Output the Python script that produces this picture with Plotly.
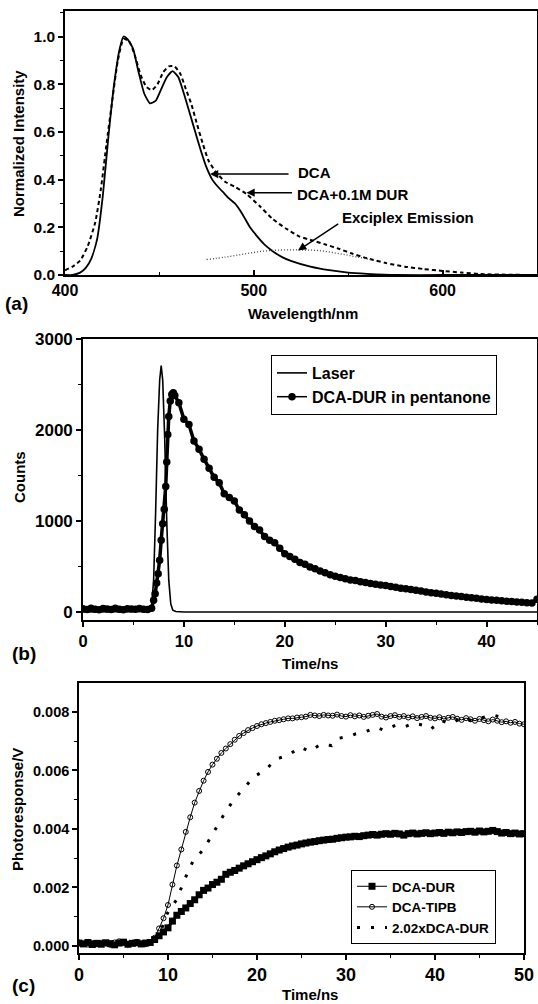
import plotly.graph_objects as go

FONT = "Liberation Sans, Arial, sans-serif"
W, H = 538, 1004

# ---------------- Panel (a): emission spectra ----------------
wl_dca = [400, 404, 408, 411, 414, 417, 420, 423, 426, 429, 431, 433, 436, 439, 442, 445, 448, 451,
          454, 457, 460, 463, 466, 469, 472, 475, 478, 481, 484, 487, 490, 494, 498, 502, 506, 510,
          515, 520, 530, 540, 550, 560, 575, 600, 650]
int_dca = [0.0, 0.0, 0.01, 0.03, 0.07, 0.15, 0.33, 0.58, 0.80, 0.95, 1.0, 0.99, 0.95, 0.85, 0.76,
           0.72, 0.73, 0.78, 0.83, 0.855, 0.83, 0.76, 0.68, 0.60, 0.52, 0.45, 0.40, 0.37, 0.345,
           0.32, 0.30, 0.255, 0.20, 0.16, 0.125, 0.10, 0.075, 0.058, 0.035, 0.02, 0.01, 0.005,
           0.0, 0.0, 0.0]
wl_dur = [400, 404, 408, 412, 416, 419, 422, 425, 428, 431, 434, 437, 440, 443, 446, 449, 452, 455,
          458, 461, 464, 467, 470, 473, 476, 480, 485, 490, 496, 503, 510, 517, 524, 531, 538, 545,
          552, 560, 570, 580, 590, 600, 610, 620, 635, 650]
int_dur = [0.02, 0.035, 0.06, 0.12, 0.22, 0.36, 0.55, 0.73, 0.90, 0.99, 0.98, 0.92, 0.84, 0.79,
           0.775, 0.80, 0.85, 0.875, 0.875, 0.845, 0.78, 0.715, 0.63, 0.55, 0.48, 0.43, 0.39, 0.37,
           0.34, 0.29, 0.235, 0.195, 0.162, 0.145, 0.128, 0.11, 0.09, 0.07, 0.05, 0.035, 0.025,
           0.017, 0.01, 0.004, 0.001, 0.0]
wl_exc = [475, 485, 495, 505, 515, 525, 535, 545, 555, 565]
int_exc = [0.065, 0.075, 0.088, 0.10, 0.105, 0.105, 0.102, 0.09, 0.075, 0.06]

# ---------------- Panel (b): time-resolved counts ----------------
t_laser = [0, 5, 6.6, 6.8, 7.0, 7.2, 7.4, 7.6, 7.75, 7.9, 8.1, 8.3, 8.5, 8.7, 8.9, 9.2, 10, 45]
c_laser = [0, 0, 5, 60, 350, 1100, 2000, 2550, 2710, 2550, 1900, 1000, 350, 90, 20, 5, 0, 0]

t_dca = [0.0, 0.4, 0.8, 1.2, 1.6, 2.0, 2.4, 2.8, 3.2, 3.6, 4.0, 4.4, 4.8, 5.2, 5.6, 6.0, 6.4, 6.8,
         7.0, 7.15, 7.3, 7.45, 7.6, 7.75, 7.9, 8.05, 8.2, 8.3, 8.4, 8.5, 8.65, 8.8, 8.95, 9.1,
         9.5, 10.0, 10.5, 11.0, 11.5, 12.0, 12.5, 13.0, 13.5, 14.0, 14.5, 15.0, 15.5, 16.0, 16.5,
         17.0, 17.5, 18.0, 18.5, 19.0, 19.5, 20.0, 20.5, 21.0, 21.5, 22.0, 22.5, 23.0, 23.5, 24.0,
         24.5, 25.0, 25.5, 26.0, 26.5, 27.0, 27.5, 28.0, 28.5, 29.0, 29.5, 30.0, 30.5, 31.0, 31.5,
         32.0, 32.5, 33.0, 33.5, 34.0, 34.5, 35.0, 35.5, 36.0, 36.5, 37.0, 37.5, 38.0, 38.5, 39.0,
         39.5, 40.0, 40.5, 41.0, 41.5, 42.0, 42.5, 43.0, 43.5, 44.0, 44.5, 45.0]
c_dca = [35, 28, 40, 30, 25, 38, 32, 27, 41, 30, 26, 36, 33, 29, 38, 31, 27, 40,
         130, 200, 320, 420, 570, 790, 970, 1130, 1380, 1650, 1950, 2150, 2320, 2390, 2410, 2380,
         2300, 2120, 2060, 1880, 1790, 1680, 1580, 1480, 1420, 1300, 1260, 1220, 1120, 1070, 1000,
         940, 900, 830, 790, 760, 700, 640, 610, 580, 545, 525, 495, 475, 450, 432,
         410, 392, 380, 365, 352, 345, 332, 325, 312, 305, 296, 290, 280, 272, 262,
         255, 248, 240, 230, 220, 212, 205, 198, 190, 182, 175, 170, 162, 156, 150,
         143, 138, 133, 128, 124, 118, 115, 110, 106, 102, 98, 140]

# ---------------- Panel (c): photoresponse ----------------
t_c = [i * 0.5 for i in range(101)]
v_tipb = [0.00012, 0.00008, 0.00005, 0.00010, 0.00006, 0.00011, 0.00009, 0.00004, 0.00012, 0.00016,
          0.00010, 0.00005, 0.00011, 0.00014, 0.00008, 0.00006, 0.00012, 0.00028, 0.00060, 0.00095,
          0.00140, 0.00210, 0.00275, 0.00330, 0.00390, 0.00440, 0.00490, 0.00530, 0.00565, 0.00595,
          0.00620, 0.00640, 0.00660, 0.00675, 0.00690, 0.00705, 0.00718, 0.00728, 0.00738, 0.00745,
          0.00752, 0.00758, 0.00762, 0.00766, 0.00770, 0.00772, 0.00775, 0.00778, 0.00778, 0.00781,
          0.00782, 0.00784, 0.00790, 0.00788, 0.00786, 0.00790, 0.00788, 0.00787, 0.00791, 0.00786,
          0.00784, 0.00789, 0.00785, 0.00788, 0.00783, 0.00787, 0.00790, 0.00793, 0.00784, 0.00781,
          0.00786, 0.00789, 0.00783, 0.00786, 0.00781, 0.00785, 0.00779, 0.00783, 0.00786, 0.00780,
          0.00778, 0.00782, 0.00776, 0.00780, 0.00783, 0.00777, 0.00773, 0.00779, 0.00775, 0.00770,
          0.00776, 0.00772, 0.00768, 0.00774, 0.00770, 0.00765, 0.00768, 0.00763, 0.00766, 0.00760,
          0.00758]
v_dur = [0.00010, 0.00007, 0.00012, 0.00005, 0.00009, 0.00006, 0.00011, 0.00008, 0.00004, 0.00010,
         0.00013, 0.00006, 0.00009, 0.00011, 0.00007, 0.00010, 0.00012, 0.00022, 0.00035, 0.00048,
         0.00062, 0.00085, 0.00105, 0.00118, 0.00130, 0.00145, 0.00158, 0.00175, 0.00190, 0.00198,
         0.00210, 0.00218, 0.00228, 0.00245, 0.00252, 0.00258, 0.00266, 0.00274, 0.00281, 0.00288,
         0.00295, 0.00302, 0.00308, 0.00315, 0.00322, 0.00328, 0.00333, 0.00338, 0.00342, 0.00345,
         0.00349, 0.00352, 0.00355, 0.00357, 0.00360, 0.00362, 0.00364, 0.00365, 0.00368, 0.00370,
         0.00372, 0.00373, 0.00375, 0.00374, 0.00377, 0.00379, 0.00381, 0.00379, 0.00382, 0.00384,
         0.00382, 0.00385, 0.00383, 0.00379, 0.00384, 0.00386, 0.00383, 0.00385, 0.00387, 0.00384,
         0.00386, 0.00388, 0.00385, 0.00389, 0.00387, 0.00390, 0.00388, 0.00391, 0.00392, 0.00389,
         0.00393, 0.00390, 0.00392, 0.00395, 0.00391, 0.00386, 0.00388, 0.00384, 0.00386, 0.00383,
         0.00384]
t_202 = [8.6, 9.3, 9.9, 11.0, 11.9, 12.8, 14.0, 15.2, 16.3, 17.4, 18.5, 19.7, 20.9, 22.2, 23.4, 24.9,
         25.9, 27.2, 28.4, 29.2, 30.1, 31.1, 32.0, 33.4, 34.3, 35.7, 36.7, 37.6, 38.6, 39.5, 40.7,
         41.8, 43.0, 44.2, 45.3, 46.5, 47.6]
v_202 = [0.0002, 0.0006, 0.0011, 0.0016, 0.0023, 0.0029, 0.0033, 0.0039, 0.0045, 0.0050, 0.0054,
         0.0058, 0.0060, 0.0064, 0.0065, 0.0068, 0.00665, 0.0069, 0.00685, 0.0071, 0.00715, 0.00725,
         0.0073, 0.00748, 0.00737, 0.00756, 0.0075, 0.00762, 0.00755, 0.0074, 0.0077, 0.0076,
         0.0078, 0.0077, 0.0078, 0.0079, 0.0078]


def px(p):
    return p / W


def py(p):
    return 1 - p / H


def axis(domain, rng, dtick, minor_dtick, size, ticks="outside", fmt=None, anchor=None):
    d = dict(domain=domain, range=rng, dtick=dtick, tick0=0, showline=True, linecolor="black",
             linewidth=1.6, mirror=True, ticks=ticks, ticklen=5, tickwidth=1.5, tickcolor="black",
             showgrid=False, zeroline=False, automargin=False,
             tickfont=dict(family=FONT, size=size, color="black", weight="bold"),
             minor=dict(dtick=minor_dtick, ticks=ticks, ticklen=3, tickwidth=1, tickcolor="black",
                        showgrid=False))
    if fmt:
        d["tickformat"] = fmt
    if anchor:
        d["anchor"] = anchor
    return d


fig = go.Figure()

# (a)
fig.add_trace(go.Scatter(x=wl_dca, y=int_dca, mode="lines", xaxis="x", yaxis="y",
                         line=dict(color="black", width=1.8, shape="spline", smoothing=0.5),
                         showlegend=False, name="DCA"))
fig.add_trace(go.Scatter(x=wl_dur, y=int_dur, mode="lines", xaxis="x", yaxis="y",
                         line=dict(color="black", width=2, dash="4px,3px", shape="spline",
                                   smoothing=0.5),
                         showlegend=False, name="DCA+0.1M DUR"))
fig.add_trace(go.Scatter(x=wl_exc, y=int_exc, mode="lines", xaxis="x", yaxis="y",
                         line=dict(color="#444444", width=1.3, dash="1px,2px", shape="spline"),
                         showlegend=False, name="Exciplex Emission"))

# (b)
fig.add_trace(go.Scatter(x=t_laser, y=c_laser, mode="lines", xaxis="x2", yaxis="y2",
                         line=dict(color="black", width=1.6), name="Laser", legend="legend"))
fig.add_trace(go.Scatter(x=t_dca, y=c_dca, mode="lines", xaxis="x2", yaxis="y2",
                         line=dict(color="black", width=3.5), showlegend=False,
                         hoverinfo="skip", name="DCA-DUR band"))
fig.add_trace(go.Scatter(x=t_dca, y=c_dca, mode="lines+markers", xaxis="x2", yaxis="y2",
                         line=dict(color="black", width=1.5),
                         marker=dict(symbol="circle", size=7.5, color="black"),
                         name="DCA-DUR in pentanone", legend="legend"))

# (c)
fig.add_trace(go.Scatter(x=t_c, y=v_dur, mode="lines", xaxis="x3", yaxis="y3",
                         line=dict(color="black", width=3), showlegend=False,
                         hoverinfo="skip", name="DCA-DUR band"))
fig.add_trace(go.Scatter(x=t_c, y=v_dur, mode="lines+markers", xaxis="x3", yaxis="y3",
                         line=dict(color="black", width=1),
                         marker=dict(symbol="square", size=7, color="black"),
                         name="DCA-DUR", legend="legend2"))
fig.add_trace(go.Scatter(x=t_c, y=v_tipb, mode="lines+markers", xaxis="x3", yaxis="y3",
                         line=dict(color="black", width=1),
                         marker=dict(symbol="circle-open", size=5, color="black",
                                     line=dict(width=1, color="black")),
                         name="DCA-TIPB", legend="legend2"))
fig.add_trace(go.Scatter(x=t_202, y=v_202, mode="lines", xaxis="x3", yaxis="y3",
                         line=dict(color="black", width=3, dash="3px,11px"),
                         name="2.02xDCA-DUR", legend="legend2"))

ann_font = dict(family=FONT, size=15, color="black", weight="bold")
letter_font = dict(family=FONT, size=19, color="black", weight="bold")


def arrow(x, y, ax, ay):
    return dict(x=x, y=y, ax=ax, ay=ay, xref="x", yref="y", axref="x", ayref="y", text="",
                showarrow=True, arrowhead=2, arrowsize=1.1, arrowwidth=1.5, arrowcolor="black")


def label(x, y, text):
    return dict(x=x, y=y, xref="x", yref="y", text=text, showarrow=False, xanchor="left",
                yanchor="middle", font=ann_font)


def paper_text(x, y, text, angle=0, font=ann_font, xanchor="center"):
    return dict(x=px(x), y=py(y), xref="paper", yref="paper", text=text, textangle=angle,
                showarrow=False, xanchor=xanchor, yanchor="middle", font=font)


annotations = [
    arrow(476.8, 0.4235, 519.2, 0.4235), label(522.4, 0.428, "DCA"),
    arrow(496.1, 0.345, 521.0, 0.345), label(521.8, 0.338, "DCA+0.1M DUR"),
    arrow(523.4, 0.103, 545.5, 0.218), label(545.7, 0.240, "Exciplex Emission"),
    paper_text(19, 144, "Normalized Intensity", -90),
    paper_text(303, 314, "Wavelength/nm"),
    paper_text(19, 477, "Counts", -90),
    paper_text(310, 663, "Time/ns"),
    paper_text(17, 810, "Photoresponse/V", -90),
    paper_text(310, 994, "Time/ns"),
    paper_text(3, 304, "(a)", font=letter_font, xanchor="left"),
    paper_text(10, 653, "(b)", font=letter_font, xanchor="left"),
    paper_text(10, 985, "(c)", font=letter_font, xanchor="left"),
]

fig.update_layout(
    width=W, height=H, margin=dict(l=0, r=0, t=0, b=0), template="none",
    paper_bgcolor="white", plot_bgcolor="white",
    xaxis=axis([px(65), px(537)], [400, 650], 100, 50, 16, ticks="inside", anchor="y"),
    yaxis=axis([py(275), py(11)], [0, 1.107], 0.2, 0.1, 15.5, fmt=".1f", anchor="x"),
    xaxis2=axis([px(83), px(537)], [0, 45], 10, 5, 16.5, anchor="y2"),
    yaxis2=axis([py(620), py(339)], [-88, 3001], 1000, 500, 17, anchor="x2"),
    xaxis3=axis([px(79), px(524)], [0, 50.01], 10, 5, 18, anchor="y3"),
    yaxis3=axis([py(953), py(683)], [-0.00024, 0.00899], 0.002, 0.001, 14.5, fmt=".3f",
                anchor="x3"),
    legend=dict(x=px(271), y=py(355), xanchor="left", yanchor="top", bordercolor="black",
                borderwidth=1, bgcolor="white", tracegroupgap=0,
                font=dict(family=FONT, size=16, color="black", weight="bold")),
    legend2=dict(x=px(351), y=py(870), xanchor="left", yanchor="top", bordercolor="black",
                 borderwidth=1, bgcolor="white", tracegroupgap=0,
                 font=dict(family=FONT, size=13.5, color="black", weight="bold")),
    annotations=annotations,
)

fig.write_html("out.html", config={"displayModeBar": False},
               post_script="document.body.style.margin='0';document.body.style.overflow='hidden';")
